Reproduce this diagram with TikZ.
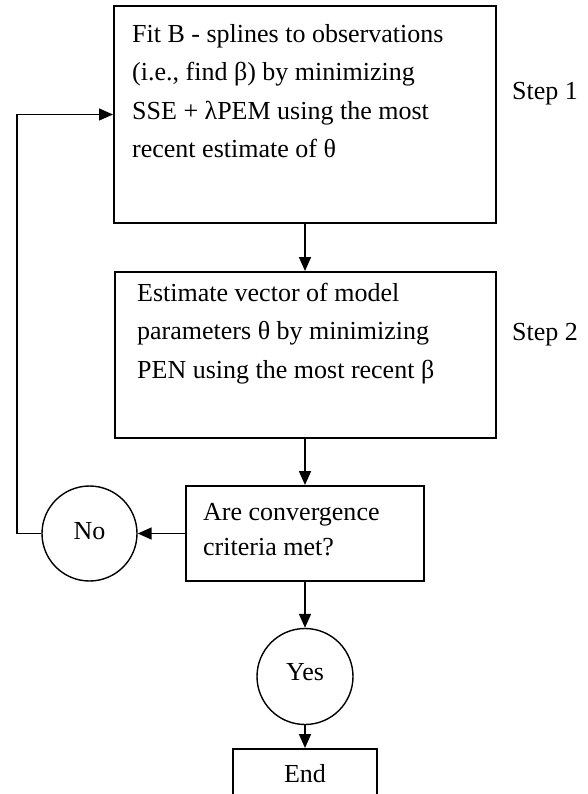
\documentclass[tikz,border=0pt]{standalone}
\usepackage{fontspec}
\setmainfont{Liberation Serif}
\usetikzlibrary{arrows.meta}

\begin{document}
\begin{tikzpicture}[x=1pt, y=-1pt,
    every node/.style={font=\fontsize{26}{38.5}\selectfont},
    box/.style={draw, rectangle, line width=2pt, inner sep=0pt},
    ring/.style={draw, circle, line width=1.4pt, inner sep=0pt},
    txt/.style={align=left, inner sep=0pt, anchor=base west},
    flow/.style={-{Triangle[length=14pt,width=12pt]}, line width=1.7pt}]
    \useasboundingbox (0,0) rectangle (587,794);

    % --- step 1 ---
    \node[box, minimum width=382pt, minimum height=217pt] (fit) at (305,114.5) {};
    \node[txt] (fittxt) at (132,158) {Fit B - splines to observations\\(i.e., find β) by minimizing\\SSE + λPEM using the most\\recent estimate of θ};
    \node[txt] (step1) at (512,100) {Step 1};

    % --- step 2 ---
    \node[box, minimum width=381pt, minimum height=166pt] (est) at (305,355) {};
    \node[txt] (esttxt) at (137,378) {Estimate vector of model\\parameters θ by minimizing\\PEN using the most recent β};
    \node[txt] (step2) at (512,340) {Step 2};

    % --- test ---
    \node[box, minimum width=238pt, minimum height=95pt] (conv) at (305,533.5) {};
    \node[txt] (convtxt) at (203,555) {Are convergence\\[-3.5pt]criteria met?};
    \node[ring, minimum size=95pt] (no) at (89.5,533.5) {\raisebox{5pt}{No}};
    \node[ring, minimum size=96pt] (yes) at (305,676.5) {\raisebox{10pt}{Yes}};
    \node[box, minimum width=144pt, minimum height=50pt] (end) at (305,774) {End};

    % --- arrows ---
    \draw[flow] (fit) -- (est);
    \draw[flow] (est) -- (conv);
    \draw[flow] (conv) -- (no);
    \draw[flow] (conv) -- (yes);
    \draw[flow] (yes) -- (end);
    \coordinate (back) at (17,533.5);
    \draw[flow, line width=1.2pt] (no) -- (back) |- (fit.west);
\end{tikzpicture}
\end{document}
